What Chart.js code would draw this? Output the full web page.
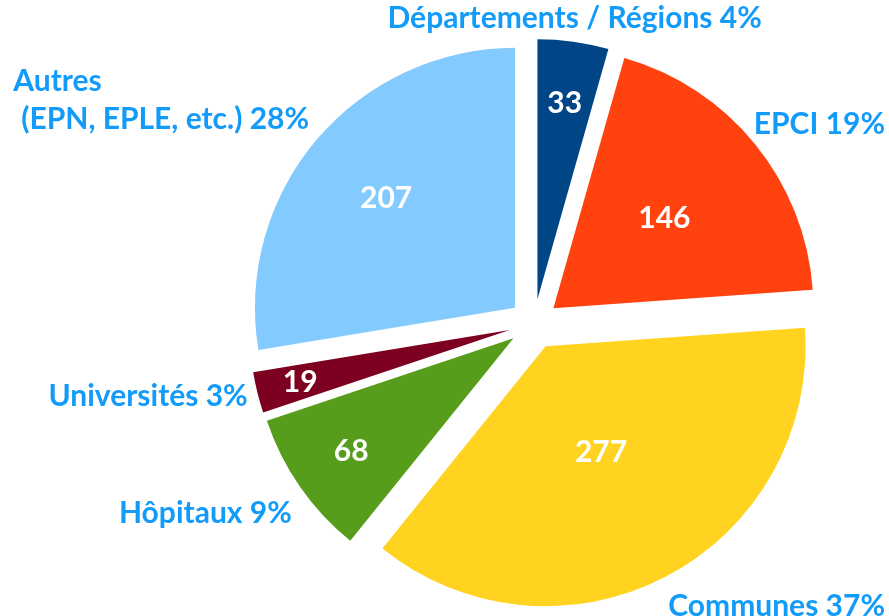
<!DOCTYPE html>
<html>
<head>
<meta charset="utf-8">
<script src="https://cdn.jsdelivr.net/npm/chart.js@4.4.1/dist/chart.umd.min.js"></script>
<style>
  html, body { margin: 0; padding: 0; background: #fff; }
  #chart { display: block; }
</style>
</head>
<body>
<canvas id="chart" width="889" height="616"></canvas>
<script>
// données du graphique (sens horaire depuis midi)
const categories = ['Départements / Régions', 'EPCI', 'Communes', 'Hôpitaux', 'Universités', ['Autres', '(EPN, EPLE, etc.)']];
const values = [33, 146, 277, 68, 19, 207];
const sliceColors = ['#004586', '#ff420e', '#ffd320', '#579d1c', '#7e0021', '#83caff'];

const labelBlue = '#139bfa';
const labelFont = 'bold 30px Lato, "Liberation Sans", sans-serif';

const total = values.reduce((a, b) => a + b, 0);

// chaque part est décalée vers l'extérieur (camembert éclaté)
const explodePlugin = {
  id: 'explode',
  beforeDatasetDraw(chart, args, opts) {
    const ctx = chart.ctx;
    args.meta.data.forEach(arc => {
      const mid = (arc.startAngle + arc.endAngle) / 2;
      ctx.save();
      ctx.translate(Math.cos(mid) * opts.distance, Math.sin(mid) * opts.distance);
      arc.draw(ctx);
      ctx.restore();
    });
    return false;
  }
};

// étiquettes : valeur dans la part, catégorie + % à l'extérieur
const labelsPlugin = {
  id: 'pieLabels',
  afterDatasetsDraw(chart, args, opts) {
    const ctx = chart.ctx;
    const d = chart.options.plugins.explode.distance;
    const meta = chart.getDatasetMeta(0);
    ctx.save();
    ctx.font = labelFont;
    meta.data.forEach((arc, i) => {
      const mid = (arc.startAngle + arc.endAngle) / 2;
      const cos = Math.cos(mid), sin = Math.sin(mid);
      const ax = arc.x + cos * d;
      const ay = arc.y + sin * d;
      const r = arc.outerRadius;

      // valeur
      const f = opts.inside[i];
      ctx.fillStyle = '#fff';
      ctx.textAlign = 'center';
      ctx.textBaseline = 'middle';
      ctx.fillText(String(values[i]), ax + cos * r * f, ay + sin * r * f);

      // catégorie
      const pct = Math.round(values[i] / total * 100) + '%';
      let lines = [].concat(categories[i]);
      lines[lines.length - 1] = lines[lines.length - 1] + ' ' + pct;
      const px = ax + cos * (r + opts.gap);
      const py = ay + sin * (r + opts.gap);
      const widths = lines.map(l => ctx.measureText(l).width);
      const w = Math.max(...widths);
      let left;
      if (Math.abs(cos) < 0.3) left = px - w / 2;
      else if (cos > 0) left = px;
      else left = px - w;
      // rester dans le canevas
      left = Math.min(left, chart.width - 4 - w);
      left = Math.max(left, 4);
      const lh = 38;
      let base; // ligne de base de la dernière ligne
      if (Math.abs(sin) < 0.3) base = py + 11;
      else if (sin > 0) base = py + 31 + (lines.length - 1) * lh;
      else base = py - 4;
      ctx.fillStyle = labelBlue;
      ctx.textBaseline = 'alphabetic';
      ctx.textAlign = 'left';
      lines.forEach((l, k) => {
        const y = base - (lines.length - 1 - k) * lh;
        const dx = (lines.length > 1 && k === 0) ? -8 : 0;
        ctx.fillText(l, left + dx, y);
      });
    });
    ctx.restore();
  }
};

new Chart(document.getElementById('chart'), {
  type: 'pie',
  data: {
    labels: categories,
    datasets: [{
      data: values,
      backgroundColor: sliceColors,
      borderWidth: 0
    }]
  },
  options: {
    responsive: false,
    animation: false,
    radius: 260,
    layout: { padding: { left: 179, right: 0, top: 32, bottom: 0 } },
    plugins: {
      legend: { display: false },
      tooltip: { enabled: false },
      explode: { distance: 25 },
      pieLabels: { gap: 10, inside: [0.76, 0.55, 0.46, 0.76, 0.83, 0.65] }
    }
  },
  plugins: [explodePlugin, labelsPlugin]
});
</script>
</body>
</html>
